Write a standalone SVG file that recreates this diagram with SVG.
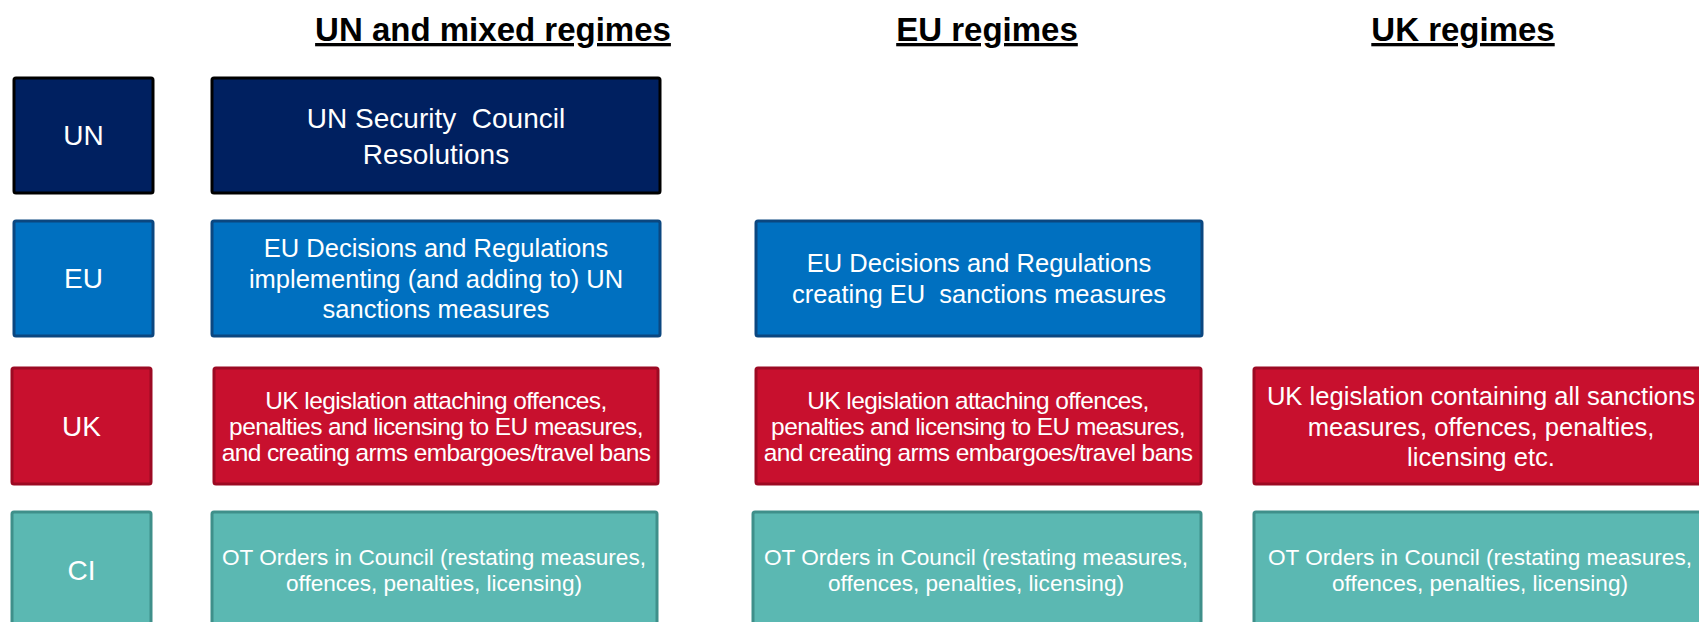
<svg xmlns="http://www.w3.org/2000/svg" width="1699" height="622" viewBox="0 0 1699 622">
  <style>
    .hdr { font-family: "Liberation Sans", Arial, sans-serif; font-weight: bold; font-size: 33px; fill: #000; text-anchor: middle; text-decoration: underline; }
    .t { font-family: "Liberation Sans", Arial, sans-serif; fill: #fff; text-anchor: middle; white-space: pre; }
    .lbl { font-size: 28px; }
    .un-t { font-size: 28px; }
    .eu-t { font-size: 25.5px; }
    .uk-t { font-size: 24.5px; letter-spacing: -0.6px; }
    .uk-big { font-size: 25.6px; }
    .ci-t { font-size: 22.6px; }
    .un { fill: #002060; stroke: #000; stroke-width: 3; }
    .eu { fill: #0070C0; stroke: #0b4780; stroke-width: 3; }
    .uk { fill: #C8102E; stroke: #9c0a23; stroke-width: 3; }
    .ci { fill: #5BB8B2; stroke: #3f8f8a; stroke-width: 3; }
  </style>

  <!-- column headings -->
  <g id="headings">
    <text class="hdr" x="493" y="41">UN and mixed regimes</text>
    <text class="hdr" x="987" y="41">EU regimes</text>
    <text class="hdr" x="1463" y="41">UK regimes</text>
  </g>

  <!-- row labels -->
  <g id="label-un">
    <rect class="un" x="14" y="78" width="139" height="115" rx="2"/>
    <text class="t lbl" x="83.5" y="145">UN</text>
  </g>
  <g id="label-eu">
    <rect class="eu" x="14" y="221" width="139" height="115" rx="2"/>
    <text class="t lbl" x="83.5" y="288">EU</text>
  </g>
  <g id="label-uk">
    <rect class="uk" x="12" y="368" width="139" height="116" rx="2"/>
    <text class="t lbl" x="81.5" y="436">UK</text>
  </g>
  <g id="label-ci">
    <rect class="ci" x="12" y="512" width="139" height="130" rx="2"/>
    <text class="t lbl" x="81.5" y="580">CI</text>
  </g>

  <!-- UN and mixed regimes column -->
  <g id="un-resolutions">
    <rect class="un" x="212" y="78" width="448" height="115" rx="2"/>
    <text class="t un-t" x="436" y="128">UN Security  Council</text>
    <text class="t un-t" x="436" y="164">Resolutions</text>
  </g>
  <g id="eu-implementing">
    <rect class="eu" x="212" y="221" width="448" height="115" rx="2"/>
    <text class="t eu-t" x="436" y="257">EU Decisions and Regulations</text>
    <text class="t eu-t" x="436" y="287.5">implementing (and adding to) UN</text>
    <text class="t eu-t" x="436" y="318">sanctions measures</text>
  </g>
  <g id="uk-mixed">
    <rect class="uk" x="214" y="368" width="444" height="116" rx="2"/>
    <text class="t uk-t" x="436" y="409">UK legislation attaching offences,</text>
    <text class="t uk-t" x="436" y="435">penalties and licensing to EU measures,</text>
    <text class="t uk-t" x="436" y="461">and creating arms embargoes/travel bans</text>
  </g>
  <g id="ci-mixed">
    <rect class="ci" x="212" y="512" width="445" height="130" rx="2"/>
    <text class="t ci-t" x="434" y="565">OT Orders in Council (restating measures,</text>
    <text class="t ci-t" x="434" y="591">offences, penalties, licensing)</text>
  </g>

  <!-- EU regimes column -->
  <g id="eu-creating">
    <rect class="eu" x="756" y="221" width="446" height="115" rx="2"/>
    <text class="t eu-t" x="979" y="272">EU Decisions and Regulations</text>
    <text class="t eu-t" x="979" y="303">creating EU  sanctions measures</text>
  </g>
  <g id="uk-eu">
    <rect class="uk" x="756" y="368" width="445" height="116" rx="2"/>
    <text class="t uk-t" x="978" y="409">UK legislation attaching offences,</text>
    <text class="t uk-t" x="978" y="435">penalties and licensing to EU measures,</text>
    <text class="t uk-t" x="978" y="461">and creating arms embargoes/travel bans</text>
  </g>
  <g id="ci-eu">
    <rect class="ci" x="753" y="512" width="448" height="130" rx="2"/>
    <text class="t ci-t" x="976" y="565">OT Orders in Council (restating measures,</text>
    <text class="t ci-t" x="976" y="591">offences, penalties, licensing)</text>
  </g>

  <!-- UK regimes column -->
  <g id="uk-autonomous">
    <rect class="uk" x="1254" y="368" width="460" height="116" rx="2"/>
    <text class="t uk-big" x="1481" y="405">UK legislation containing all sanctions</text>
    <text class="t uk-big" x="1481" y="436">measures, offences, penalties,</text>
    <text class="t uk-big" x="1481" y="466">licensing etc.</text>
  </g>
  <g id="ci-uk">
    <rect class="ci" x="1254" y="512" width="460" height="130" rx="2"/>
    <text class="t ci-t" x="1480" y="565">OT Orders in Council (restating measures,</text>
    <text class="t ci-t" x="1480" y="591">offences, penalties, licensing)</text>
  </g>

  <!-- no connectors are drawn between the boxes -->
  <g id="connectors"/>
</svg>
